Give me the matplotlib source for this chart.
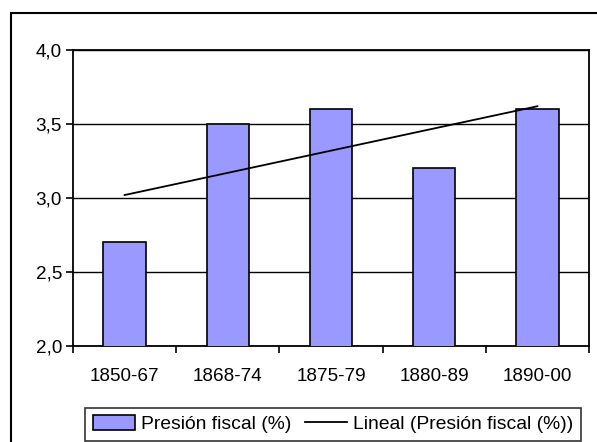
import numpy as np
import matplotlib
matplotlib.use("Agg")
import matplotlib.pyplot as plt
from matplotlib.patches import Rectangle
from matplotlib.ticker import FixedLocator, FuncFormatter

plt.rcParams['font.family'] = ['Liberation Sans', 'DejaVu Sans']

periods = ["1850-67", "1868-74", "1875-79", "1880-89", "1890-00"]
presion = [2.7, 3.5, 3.6, 3.2, 3.6]
y_ticks = [2.0, 2.5, 3.0, 3.5, 4.0]

bar_color = "#9999FF"
fs = 13.6

fig = plt.figure(figsize=(5.97, 4.42), dpi=100)
fig.patch.set_facecolor("white")

# outer chart-area frame
fig.patches.append(Rectangle((11 / 597, -0.05), 1.0, 1 - 13 / 442 + 0.05,
                             transform=fig.transFigure, fill=False,
                             edgecolor="black", linewidth=1.5, zorder=0))

ax = fig.add_axes([73 / 597, 1 - 346 / 442, (589 - 73) / 597, (346 - 50) / 442])

x = np.arange(1, len(periods) + 1)
bars = ax.bar(x, presion, width=0.41, color=bar_color, edgecolor="black",
              linewidth=1.2, zorder=3)

# linear trend fitted to the series
slope, intercept = np.polyfit(x, presion, 1)
trend, = ax.plot([x[0], x[-1]],
                 [slope * x[0] + intercept, slope * x[-1] + intercept],
                 color="black", linewidth=1.3, zorder=4)

ax.set_xlim(0.5, len(periods) + 0.5)
ax.set_ylim(y_ticks[0], y_ticks[-1])
ax.set_yticks(y_ticks)
ax.yaxis.set_major_formatter(FuncFormatter(lambda v, p: f"{v:.1f}".replace(".", ",")))
ax.grid(axis="y", color="black", linewidth=1.0, zorder=1)

ax.set_xticks(x)
ax.set_xticklabels(periods)
ax.xaxis.set_minor_locator(FixedLocator(np.arange(0.5, len(periods) + 1, 1)))
ax.tick_params(axis="x", which="major", length=0, pad=16, labelsize=fs)
ax.tick_params(axis="x", which="minor", length=5, width=1.2, direction="out")
ax.tick_params(axis="y", length=5, width=1.2, direction="out", pad=3, labelsize=fs)

for s in ax.spines.values():
    s.set_linewidth(1.3)
    s.set_color("black")

leg = fig.legend([bars, trend], ["Presión fiscal (%)", "Lineal (Presión fiscal (%))"],
                 loc="lower left", bbox_to_anchor=(85 / 597, 1 - 441 / 442),
                 ncol=2, frameon=True, fontsize=13.9, fancybox=False,
                 edgecolor="black", borderpad=0.4, handlelength=2.2,
                 handleheight=0.75, handletextpad=0.3, columnspacing=0.7,
                 borderaxespad=0)
leg.get_frame().set_linewidth(1.2)

fig.savefig("out.png", dpi=100, facecolor="white")
